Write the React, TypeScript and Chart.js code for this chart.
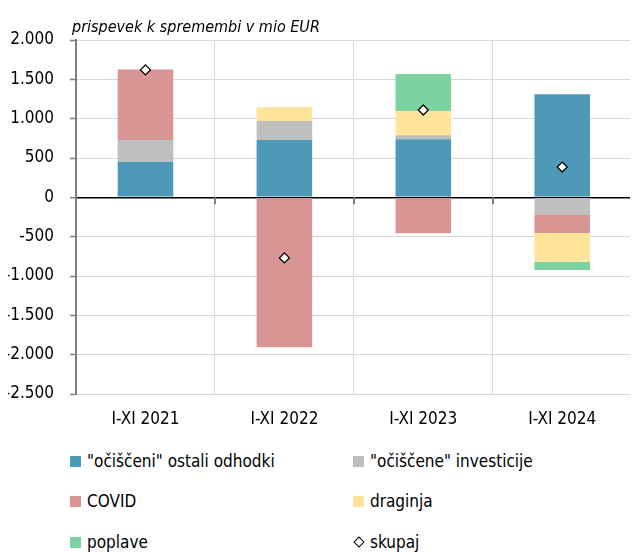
import React, { useEffect, useRef } from "react";
import { Chart, registerables } from "chart.js";
Chart.register(...registerables);

const categories = ["I-XI 2021", "I-XI 2022", "I-XI 2023", "I-XI 2024"];
const ostaliOdhodki = [452, 728, 737, 1309];
const investicije = [276, 241, 51, -216];
const covid = [898, -1906, -457, -238];
const draginja = [0, 175, 309, -364];
const poplave = [0, 0, 470, -106];
const skupaj = [1620, -770, 1110, 385];
const yMin = -2500;
const yMax = 2000;
const yStep = 500;
const titleText = "prispevek k spremembi v mio EUR";
const seriesNames = [
  '"očiščeni" ostali odhodki',
  '"očiščene" investicije',
  "COVID",
  "draginja",
  "poplave",
  "skupaj",
];
const colors = ["#4E98B8", "#BFBFBF", "#D99594", "#FFE499", "#7CD3A0"];

const FONT = "'DejaVu Sans Condensed', 'DejaVu Sans', sans-serif";
const FS = 17;
const W = 638;
const H = 440;

function fmt(v: number) {
  const s = Math.abs(v).toString().replace(/\B(?=(\d{3})+(?!\d))/g, ".");
  return (v < 0 ? "-" : "") + s;
}

const extras = {
  id: "extras",
  afterDraw(chart: any) {
    const ctx = chart.ctx;
    const area = chart.chartArea;
    const x = chart.scales.x;
    const y = chart.scales.y;
    ctx.save();
    ctx.font = `italic 16px ${FONT}`;
    ctx.fillStyle = "#000";
    ctx.textBaseline = "alphabetic";
    ctx.textAlign = "left";
    ctx.fillText(titleText, area.left - 4, 32);
    const y0 = y.getPixelForValue(0);
    ctx.strokeStyle = "#7f7f7f";
    ctx.lineWidth = 2;
    for (let i = 1; i < categories.length; i++) {
      const xs = Math.round((x.getPixelForValue(i - 1) + x.getPixelForValue(i)) / 2);
      ctx.beginPath();
      ctx.moveTo(xs, y0);
      ctx.lineTo(xs, y0 + 7);
      ctx.stroke();
    }
    ctx.restore();
  },
};

export default function App() {
  const ref = useRef<HTMLCanvasElement>(null);
  useEffect(() => {
    if (!ref.current) return;
    const barDs = (label: string, data: number[], color: string) => ({
      type: "bar" as const,
      label,
      data,
      backgroundColor: color,
      borderWidth: 0,
      stack: "s",
      barPercentage: 0.4,
      categoryPercentage: 1,
      order: 2,
    });
    const chart = new Chart(ref.current, {
      type: "bar",
      data: {
        labels: categories,
        datasets: [
          barDs(seriesNames[0], ostaliOdhodki, colors[0]),
          barDs(seriesNames[1], investicije, colors[1]),
          barDs(seriesNames[2], covid, colors[2]),
          barDs(seriesNames[3], draginja, colors[3]),
          barDs(seriesNames[4], poplave, colors[4]),
          {
            type: "line" as const,
            label: seriesNames[5],
            data: skupaj,
            showLine: false,
            pointStyle: "rectRot",
            pointRadius: 5,
            pointBackgroundColor: "#fff",
            pointBorderColor: "#000",
            pointBorderWidth: 1.3,
            stack: "total",
            order: 1,
          } as any,
        ],
      },
      options: {
        responsive: false,
        animation: false,
        layout: { padding: { top: 40, right: 1, left: 0, bottom: 0 } },
        plugins: {
          legend: { display: false },
          tooltip: { enabled: false },
          title: { display: false },
        },
        scales: {
          x: {
            stacked: true,
            position: "bottom",
            grid: {
              offset: true,
              color: "#d9d9d9",
              lineWidth: 1,
              drawTicks: false,
            },
            border: { display: true, color: "#d9d9d9", width: 1 },
            ticks: {
              color: "#000",
              font: { family: FONT, size: FS },
              padding: 15,
              maxRotation: 0,
            },
            afterFit: (s: any) => {
              s.height = 46;
            },
          },
          y: {
            stacked: true,
            min: yMin,
            max: yMax,
            ticks: {
              stepSize: yStep,
              color: "#000",
              font: { family: FONT, size: FS },
              padding: 16,
              callback: (v: any) => fmt(Number(v)),
            },
            grid: {
              color: (c: any) => (c.tick && c.tick.value === 0 ? "#000" : "#d9d9d9"),
              lineWidth: (c: any) => (c.tick && c.tick.value === 0 ? 1.5 : 1),
              tickColor: "#7f7f7f",
              tickLength: 6,
              tickWidth: 1.5,
            },
            border: { display: true, color: "#7f7f7f", width: 2 },
            afterFit: (s: any) => {
              s.width = 76;
            },
          },
        },
      },
      plugins: [extras],
    } as any);
    return () => chart.destroy();
  }, []);

  const legendItems = [
    { name: seriesNames[0], color: colors[0], col: 0, row: 0 },
    { name: seriesNames[1], color: colors[1], col: 1, row: 0 },
    { name: seriesNames[2], color: colors[2], col: 0, row: 1 },
    { name: seriesNames[3], color: colors[3], col: 1, row: 1 },
    { name: seriesNames[4], color: colors[4], col: 0, row: 2 },
    { name: seriesNames[5], color: null, col: 1, row: 2 },
  ];
  const rowY = [461, 501, 542];
  const colX = [70, 353];

  return (
    <div style={{ position: "relative", width: W, height: 552, marginLeft: -8, marginTop: -8 }}>
      <canvas
        ref={ref}
        width={W}
        height={H}
        style={{ position: "absolute", left: 0, top: 0, width: W, height: H }}
      />
      {legendItems.map((it, i) => (
        <div
          key={i}
          style={{
            position: "absolute",
            left: colX[it.col],
            top: rowY[it.row] - 12,
            height: 24,
            display: "flex",
            alignItems: "center",
            fontFamily: FONT,
            fontSize: FS,
            color: "#000",
            whiteSpace: "nowrap",
          }}
        >
          {it.color ? (
            <div style={{ width: 11, height: 11, background: it.color, marginRight: 6 }} />
          ) : (
            <div style={{ width: 11, height: 11, marginRight: 6, display: "flex", alignItems: "center", justifyContent: "center" }}>
              <div
                style={{
                  width: 6,
                  height: 6,
                  border: "1.3px solid #000",
                  background: "#fff",
                  transform: "rotate(45deg)",
                }}
              />
            </div>
          )}
          <span>{it.name}</span>
        </div>
      ))}
    </div>
  );
}
